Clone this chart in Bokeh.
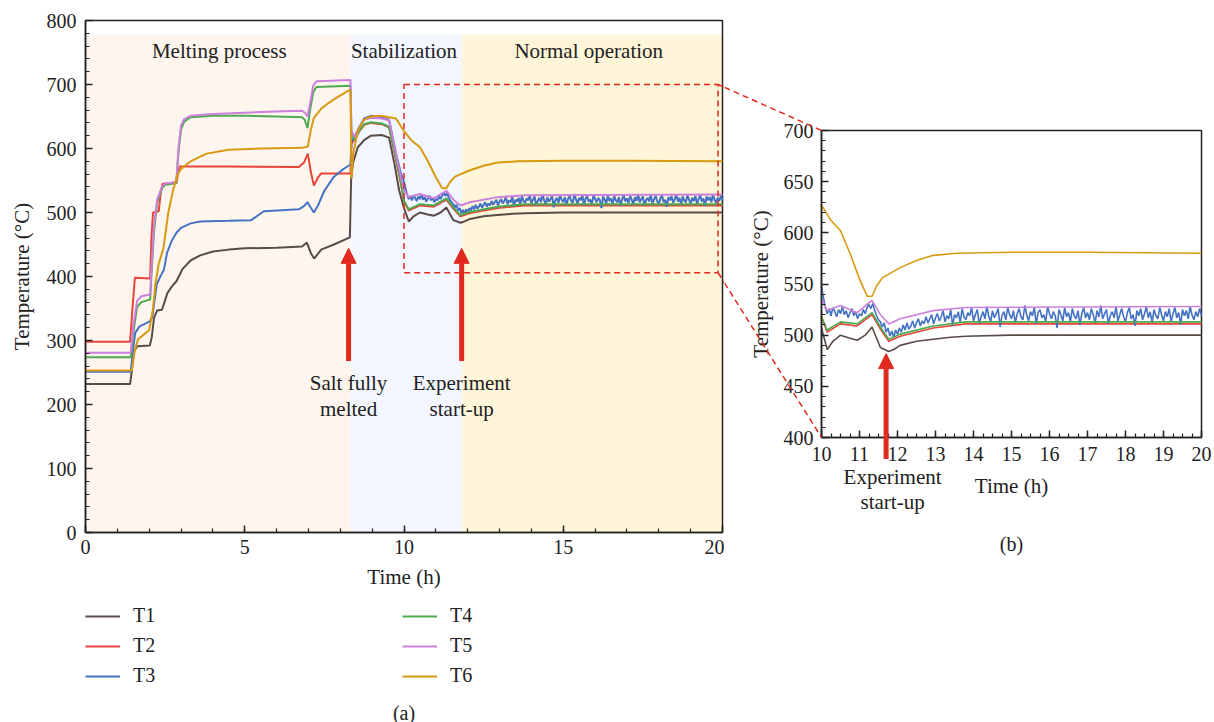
import numpy as np
from bokeh.plotting import figure
from bokeh.models import (ColumnDataSource, Arrow, NormalHead, Label, Legend, LegendItem,
                          SingleIntervalTicker, Range1d)
from bokeh.layouts import row
from bokeh.embed import file_html
from bokeh.resources import INLINE

FONT = "Liberation Serif"

# ---------------- data ----------------
series_names = ["T1", "T2", "T3", "T4", "T5", "T6"]
series_colors = ["#5b4b47", "#e8453c", "#4472c4", "#4daa50", "#cc80dc", "#d89a10"]

t1_time = [0, 1.40, 1.46, 1.52, 1.62, 2.02, 2.08, 2.15, 2.25, 2.40, 2.48, 2.57, 2.72, 2.86, 2.95,
           3.05, 3.30, 3.60, 4.00, 4.50, 5.00, 6.00, 6.80, 6.95, 7.08, 7.18, 7.40, 7.80, 8.30, 8.34,
           8.40, 8.55, 8.75, 8.96, 9.30, 9.53, 9.70, 9.85, 10.00, 10.15, 10.30, 10.50, 10.75, 10.94,
           11.15, 11.33, 11.45, 11.55, 11.77, 11.90, 12.07, 12.50, 12.94, 13.40, 13.80, 15.00, 17.00, 20.00]
t1_temp = [232, 232, 255, 282, 291, 292, 305, 335, 347, 348, 360, 374, 385, 393, 402,
           412, 425, 433, 439, 442, 444, 445, 447, 453, 436, 428, 442, 450, 461, 552,
           578, 602, 613, 620, 621, 617, 576, 534, 507, 486, 494, 500, 497, 495,
           500, 508, 497, 488, 484, 486, 490, 494, 496, 498, 499, 500, 500, 500]

t2_time = [0, 1.40, 1.46, 1.55, 2.03, 2.07, 2.12, 2.30, 2.36, 2.42, 2.86, 2.90, 2.96, 3.10, 4.50,
           6.70, 6.86, 6.98, 7.08, 7.17, 7.30, 7.40, 8.32, 8.35, 8.45, 8.60, 8.75, 8.96, 9.30, 9.53,
           9.75, 9.90, 10.00, 10.15, 10.50, 10.94, 11.33, 11.55, 11.77, 12.07, 12.94, 13.80, 20.00]
t2_temp = [298, 298, 340, 398, 397, 460, 500, 502, 530, 545, 546, 560, 572, 572, 572,
           571, 578, 592, 562, 542, 555, 561, 561, 607, 614, 627, 637, 640, 638, 633,
           582, 546, 518, 503, 511, 509, 520, 506, 494, 499, 507, 511, 511]

t3_time_smooth = [0, 1.42, 1.48, 1.56, 1.70, 2.02, 2.10, 2.16, 2.24, 2.36, 2.46, 2.56, 2.70, 2.85,
                  3.00, 3.30, 3.60, 4.50, 5.20, 5.40, 5.60, 6.70, 6.86, 6.97, 7.08, 7.17, 7.30, 7.50,
                  7.80, 8.10, 8.32, 8.35, 8.45, 8.60, 8.75, 8.96, 9.30, 9.53, 9.75, 9.90, 10.00]
t3_temp_smooth = [251, 251, 280, 312, 322, 330, 337, 360, 388, 401, 410, 437, 455, 468,
                  476, 483, 486, 487, 488, 495, 502, 505, 510, 516, 507, 500, 511, 534,
                  556, 568, 575, 610, 619, 634, 647, 651, 649, 645, 592, 562, 548]
# noisy T3 record, one reading every 0.05 h from 10.05 h to 20.00 h
t3_time_noisy = [round(10.05 + 0.05 * i, 2) for i in range(200)]
t3_temp_noisy = [537, 527, 521, 526, 519, 527, 523, 518, 525, 521, 528, 520, 524, 517, 522, 526, 519, 523, 516, 521,
                 519, 525, 521, 527, 530, 526, 531, 524, 519, 515,
                 513, 508, 512, 503, 507, 499, 504, 498, 505, 501,
                 507, 503, 510, 505, 512, 506, 509, 514, 507, 512,
                 516, 509, 514, 511, 518, 512, 516, 520, 511, 517,
                 521, 514, 518, 524, 513, 519, 516, 525, 509, 520, 517, 523, 512, 526, 518, 515, 522, 519, 527, 514,
                 520, 525, 511, 518, 523, 516, 528, 519, 513, 524, 517, 521, 526, 508, 519, 523, 515, 527, 520, 516,
                 524, 512, 521, 526, 518, 515, 529, 520, 514, 523, 519, 527, 511, 522, 525, 517, 520, 513, 528, 521,
                 516, 523, 519, 507, 525, 520, 514, 527, 518, 522, 513, 526, 519, 516, 524, 510, 521, 527, 517, 522,
                 515, 526, 520, 512, 524, 518, 529, 516, 521, 525, 511, 519, 523, 517, 528, 514, 520, 526, 518, 513,
                 522, 527, 516, 520, 509, 524, 519, 526, 515, 521, 528, 517, 523, 512, 525, 519, 516, 527, 520, 514,
                 523, 518, 526, 513, 521, 527, 517, 522, 510, 525, 519, 524, 516, 528, 520, 515, 523, 518, 526, 519]
t3_time = t3_time_smooth + t3_time_noisy
t3_temp = t3_temp_smooth + t3_temp_noisy

t4_time = [0, 1.42, 1.50, 1.62, 1.75, 2.03, 2.08, 2.15, 2.25, 2.40, 2.50, 2.85, 2.92, 3.00, 3.10,
           3.30, 4.00, 5.00, 6.00, 6.80, 6.88, 6.97, 7.05, 7.15, 7.25, 8.32, 8.35, 8.45, 8.60, 8.75,
           8.96, 9.30, 9.53, 9.75, 9.90, 10.00, 10.15, 10.50, 10.94, 11.33, 11.55, 11.77, 12.07,
           12.94, 13.80, 20.00]
t4_temp = [274, 274, 312, 352, 360, 364, 410, 470, 515, 538, 543, 546, 595, 630, 642,
           649, 651, 651, 650, 649, 645, 632, 660, 688, 696, 698, 622, 614, 628, 638,
           641, 639, 634, 585, 548, 518, 505, 513, 511, 522, 508, 496, 501,
           509, 513, 513]

t5_time = [0, 1.42, 1.50, 1.62, 1.75, 2.03, 2.08, 2.15, 2.25, 2.40, 2.50, 2.85, 2.92, 3.00, 3.10,
           3.30, 4.00, 5.00, 6.00, 6.80, 6.90, 6.97, 7.05, 7.15, 7.25, 8.32, 8.35, 8.45, 8.60, 8.75,
           8.96, 9.30, 9.53, 9.75, 9.90, 10.00, 10.15, 10.50, 10.94, 11.33, 11.55, 11.77, 12.07,
           12.94, 13.80, 20.00]
t5_temp = [281, 281, 322, 362, 369, 372, 420, 480, 520, 540, 545, 548, 600, 636, 646,
           651, 654, 656, 658, 659, 655, 650, 670, 698, 705, 707, 628, 618, 633, 645,
           648, 647, 644, 592, 556, 535, 524, 529, 522, 534, 520, 511, 516,
           524, 527, 528]

t6_time = [0, 1.45, 1.55, 1.65, 1.80, 2.00, 2.05, 2.12, 2.20, 2.30, 2.45, 2.60, 2.75, 2.90, 3.00,
           3.30, 3.80, 4.50, 5.50, 6.80, 6.98, 7.07, 7.17, 7.40, 7.60, 7.90, 8.24, 8.32, 8.35, 8.40,
           8.55, 8.75, 8.96, 9.28, 9.75, 10.00, 10.25, 10.50, 10.75, 11.00, 11.20, 11.33, 11.45,
           11.60, 12.07, 12.50, 12.94, 13.56, 15.00, 17.00, 20.00]
t6_temp = [253, 253, 285, 302, 308, 316, 330, 350, 390, 420, 445, 500, 535, 560, 568,
           580, 592, 598, 600, 601, 603, 628, 648, 662, 670, 680, 690, 691, 553, 590,
           628, 645, 650, 651, 647, 627, 612, 602, 580, 555, 538, 538, 548,
           556, 566, 573, 578, 580, 581, 581, 580]

series_time = [t1_time, t2_time, t3_time, t4_time, t5_time, t6_time]
series_temp = [t1_temp, t2_temp, t3_temp, t4_temp, t5_temp, t6_temp]

phase_names = ["Melting process", "Stabilization", "Normal operation"]
phase_start = [0.0, 8.33, 11.82]
phase_end = [8.33, 11.82, 20.0]
phase_top = [778, 778, 778]
phase_colors = ["#fef5ee", "#f3f6fe", "#fff5d8"]
phase_label_time = [4.2, 10.0, 15.8]
phase_label_temp = 753

event_lines = [["Salt fully", "melted"], ["Experiment", "start-up"]]
event_time = [8.26, 11.81]
arrow_base, arrow_tip = 268, 444

zoom_time = [10.0, 19.86]
zoom_temp = [406.0, 700.0]

# ---------------- layout constants (page pixels) ----------------
PAGE_W, PAGE_H = 1214, 722
FRAME_TOP = 0                      # both canvases: frame covers the whole canvas
L_W = 724                          # width of the left canvas
A_LEFT, A_RIGHT, A_TOP, A_BOTTOM = 85, 722, 20, 532      # box of panel (a)
B_LEFT, B_RIGHT, B_TOP, B_BOTTOM = 821, 1201, 130, 437   # box of panel (b)
LEGEND_BOTTOM = 687
CAPTION_A_Y, CAPTION_B_Y = 712, 543
LX, LY = (0, 20), (0, 800)
RX, RY = (10, 20), (400, 700)

RED = "#e02a1e"
TXT = "#222222"

FRAME_H = PAGE_H - FRAME_TOP
R_W = PAGE_W - L_W


def style_axis(ax):
    ax.axis_line_color = TXT
    ax.axis_line_width = 1.5
    ax.major_tick_line_color = TXT
    ax.minor_tick_line_color = TXT
    ax.major_tick_line_width = 1.5
    ax.minor_tick_line_width = 1.2
    ax.major_tick_in = 7
    ax.major_tick_out = 0
    ax.minor_tick_in = 4
    ax.minor_tick_out = 0
    ax.major_label_text_font = FONT
    ax.major_label_text_font_size = "20px"
    ax.major_label_text_color = TXT
    ax.axis_label_text_font = FONT
    ax.axis_label_text_font_size = "21px"
    ax.axis_label_text_font_style = "normal"
    ax.axis_label_text_color = TXT


def make_panel(width, xr, yr, box, page_x0):
    """A figure whose frame fills its canvas; the visible chart box is drawn with
    fixed-location axes so texts and arrows outside the box stay visible."""
    left, right, top, bottom = box
    px_h = (right - left) / (xr[1] - xr[0])
    px_deg = (bottom - top) / (yr[1] - yr[0])
    x_rng = (xr[0] - (left - page_x0) / px_h, xr[1] + (page_x0 + width - right) / px_h)
    y_rng = (yr[0] - (PAGE_H - bottom) / px_deg, yr[1] + (top - FRAME_TOP) / px_deg)
    f = figure(width=width, height=PAGE_H, frame_width=width, frame_height=FRAME_H,
               min_border_left=0, min_border_right=0, min_border_top=FRAME_TOP, min_border_bottom=0,
               x_range=Range1d(*x_rng), y_range=Range1d(*y_rng),
               output_backend="svg", toolbar_location=None,
               x_axis_label="Time (h)", y_axis_label="Temperature (°C)")
    style_axis(f.xaxis[0])
    style_axis(f.yaxis[0])
    f.xaxis.fixed_location = yr[0]
    f.xaxis.bounds = xr
    f.yaxis.fixed_location = xr[0]
    f.yaxis.bounds = yr
    f.xgrid.visible = False
    f.ygrid.visible = False
    f.outline_line_color = None
    to_page = lambda t, v: (left + (t - xr[0]) * px_h, top + (yr[1] - v) * px_deg)
    from_page = lambda sx, sy: (xr[0] + (sx - left) / px_h, yr[1] - (sy - top) / px_deg)
    return f, to_page, from_page


# ---------------- left chart (a) ----------------
p, a_to_page, a_from_page = make_panel(L_W, LX, LY, (A_LEFT, A_RIGHT, A_TOP, A_BOTTOM), 0)
p.xaxis.ticker = SingleIntervalTicker(interval=5, num_minor_ticks=5)
p.yaxis.ticker = SingleIntervalTicker(interval=100, num_minor_ticks=5)
p.xaxis.major_label_standoff = 7
p.xaxis.axis_label_standoff = 8
p.yaxis.major_label_standoff = 9
p.yaxis.axis_label_standoff = 10

p.quad(left=phase_start, right=phase_end, bottom=[0, 0, 0], top=phase_top,
       fill_color=phase_colors, line_color=None)
p.quad(left=[LX[0]], right=[LX[1]], bottom=[LY[0]], top=[LY[1]], fill_alpha=0,
       line_color=TXT, line_width=1.5)
for name, tx in zip(phase_names, phase_label_time):
    p.add_layout(Label(x=tx, y=phase_label_temp, text=name, text_font=FONT, text_font_size="21px",
                       text_color=TXT, text_align="center", text_baseline="middle"))

renderers = []
for name, col, tt, vv in zip(series_names, series_colors, series_time, series_temp):
    r = p.line("t", "v", source=ColumnDataSource(dict(t=tt, v=vv)), line_color=col, line_width=2)
    renderers.append(r)

p.quad(left=[zoom_time[0]], right=[zoom_time[1]], bottom=[zoom_temp[0]], top=[zoom_temp[1]],
       fill_alpha=0, line_color=RED, line_width=1.5, line_dash="6 4")

for et, lines in zip(event_time, event_lines):
    p.add_layout(Arrow(end=NormalHead(size=15, fill_color=RED, line_color=RED, line_width=1),
                       x_start=et, y_start=arrow_base, x_end=et, y_end=arrow_tip,
                       line_color=RED, line_width=5))
    for k, txt in enumerate(lines):
        p.add_layout(Label(x=et, y=arrow_base, y_offset=-22 - 26 * k, text=txt, text_font=FONT,
                           text_font_size="21px", text_color=TXT, text_align="center",
                           text_baseline="middle"))

legend = Legend(items=[LegendItem(label=n, renderers=[r]) for n, r in zip(series_names, renderers)],
                orientation="vertical", nrows=3, location=(A_LEFT, PAGE_H - LEGEND_BOTTOM),
                glyph_width=35, glyph_height=20, label_standoff=13, label_width=262,
                label_height=20, spacing=7, padding=0, margin=0,
                border_line_alpha=0, background_fill_alpha=0,
                label_text_font=FONT, label_text_font_size="20px", label_text_color=TXT)
p.add_layout(legend)
p.add_layout(Label(x=(LX[0] + LX[1]) / 2, y=a_from_page(0, CAPTION_A_Y)[1], text="(a)", text_font=FONT,
                   text_font_size="20px", text_color=TXT, text_align="center", text_baseline="middle"))

# ---------------- right chart (b) ----------------
q, b_to_page, b_from_page = make_panel(R_W, RX, RY, (B_LEFT, B_RIGHT, B_TOP, B_BOTTOM), L_W)
q.xaxis.ticker = SingleIntervalTicker(interval=1, num_minor_ticks=4)
q.yaxis.ticker = SingleIntervalTicker(interval=50, num_minor_ticks=5)
q.xaxis.major_label_standoff = 9
q.xaxis.axis_label_standoff = 10
q.yaxis.major_label_standoff = 8
q.yaxis.axis_label_standoff = 8

q.quad(left=[RX[0]], right=[RX[1]], bottom=[RY[0]], top=[RY[1]], fill_alpha=0,
       line_color=TXT, line_width=1.5)
for name, col, tt, vv in zip(series_names, series_colors, series_time, series_temp):
    keep = [i for i, t in enumerate(tt) if RX[0] <= t <= RX[1]]
    q.line("t", "v", source=ColumnDataSource(dict(t=[tt[i] for i in keep], v=[vv[i] for i in keep])),
           line_color=col, line_width=1.6)

q.add_layout(Arrow(end=NormalHead(size=15, fill_color=RED, line_color=RED, line_width=1),
                   x_start=11.70, y_start=379, x_end=11.70, y_end=482,
                   line_color=RED, line_width=5))
for k, txt in enumerate(event_lines[1]):
    q.add_layout(Label(x=11.87, y=361, y_offset=-25 * k, text=txt, text_font=FONT,
                       text_font_size="21px", text_color=TXT, text_align="center",
                       text_baseline="middle"))
q.add_layout(Label(x=(RX[0] + RX[1]) / 2, y=b_from_page(0, CAPTION_B_Y)[1], text="(b)", text_font=FONT,
                   text_font_size="20px", text_color=TXT, text_align="center", text_baseline="middle"))

# ---------------- connector lines from zoom box to panel (b) ----------------
for zv, rv in ((zoom_temp[1], RY[1]), (zoom_temp[0], RY[0])):
    a = a_to_page(zoom_time[1], zv)
    b = b_to_page(RX[0], rv)
    f = (L_W - a[0]) / (b[0] - a[0])
    m = (L_W, a[1] + f * (b[1] - a[1]))
    le = a_from_page(*m)
    p.add_layout(Arrow(end=None, x_start=zoom_time[1], y_start=zv, x_end=le[0], y_end=le[1],
                       line_color=RED, line_width=1.5, line_dash="6 4"))
    rs = b_from_page(*m)
    q.add_layout(Arrow(end=None, x_start=rs[0], y_start=rs[1], x_end=RX[0], y_end=rv,
                       line_color=RED, line_width=1.5, line_dash="6 4"))

layout = row(p, q)
open("out.html", "w").write(file_html(layout, INLINE))
